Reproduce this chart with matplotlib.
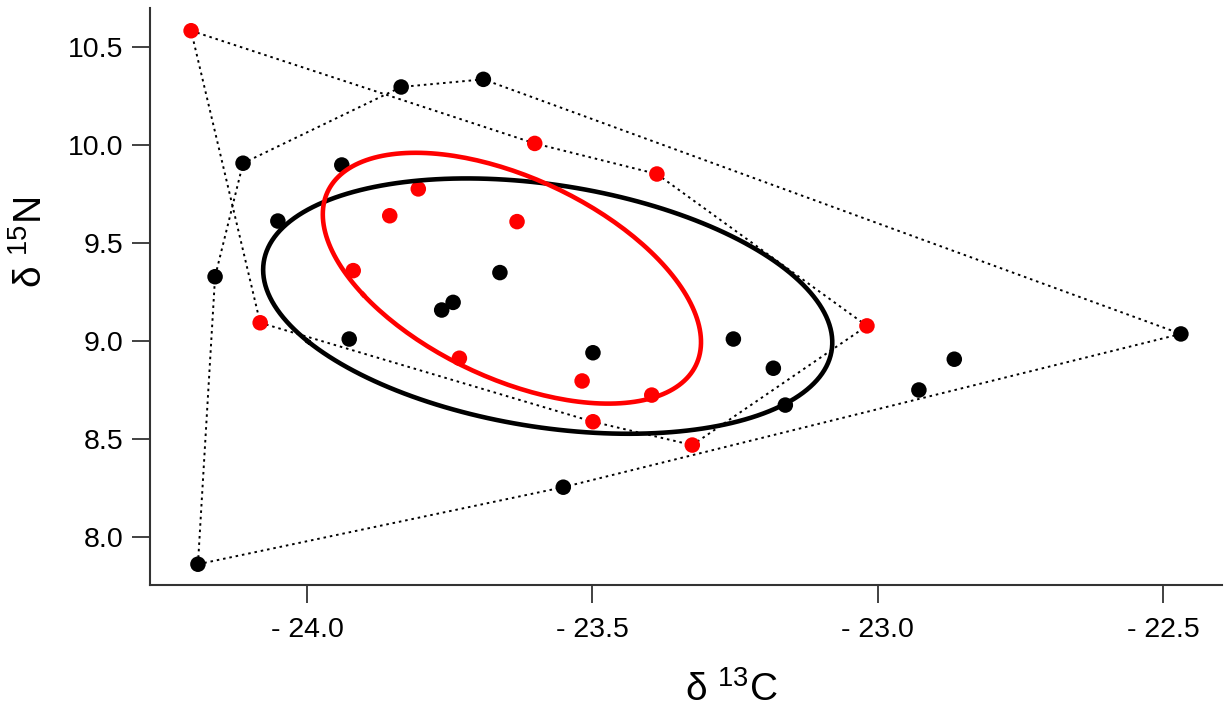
import numpy as np
import matplotlib
matplotlib.use("Agg")
import matplotlib.pyplot as plt
from matplotlib.ticker import FuncFormatter

# --------------------------------------------------
# data
# --------------------------------------------------
black_x = [-24.191, -23.551, -22.469, -23.691, -23.835, -24.112, -24.161,
           -24.051, -23.939, -23.926, -23.764, -23.744, -23.662, -23.499,
           -23.253, -23.183, -23.162, -22.928, -22.866]
black_y = [7.861, 8.254, 9.036, 10.335, 10.296, 9.907, 9.328,
           9.612, 9.898, 9.010, 9.158, 9.197, 9.349, 8.940,
           9.010, 8.861, 8.673, 8.750, 8.907]

red_x = [-24.203, -23.601, -23.387, -23.019, -23.325, -23.499, -24.082,
         -23.805, -23.855, -23.632, -23.919, -23.733, -23.518, -23.396]
red_y = [10.583, 10.008, 9.852, 9.077, 8.469, 8.588, 9.093,
         9.776, 9.639, 9.609, 9.359, 8.912, 8.796, 8.724]

# hull outline, as indices into the groups above
black_hull = [0, 1, 2, 3, 4, 5, 6, 0]
red_hull = [0, 1, 2, 3, 4, 5, 6, 0]

x_ticks = [-24.0, -23.5, -23.0, -22.5]
y_ticks = [8.0, 8.5, 9.0, 9.5, 10.0, 10.5]


def sea_c(x, y, n_pts=200):
    # small-sample corrected standard ellipse (SEAc)
    x = np.asarray(x)
    y = np.asarray(y)
    n = len(x)
    cov = np.cov(x, y) * (n - 1) / (n - 2)
    vals, vecs = np.linalg.eigh(cov)
    t = np.linspace(0, 2 * np.pi, n_pts)
    circ = np.vstack([np.cos(t), np.sin(t)])
    pts = vecs @ (np.sqrt(vals)[:, None] * circ)
    return pts[0] + x.mean(), pts[1] + y.mean()


plt.rcParams["font.family"] = ["Liberation Sans", "DejaVu Sans"]
plt.rcParams["mathtext.fontset"] = "custom"
plt.rcParams["mathtext.rm"] = "Liberation Sans"
plt.rcParams["mathtext.it"] = "Liberation Sans"

fig = plt.figure(figsize=(12.31, 7.12), dpi=100)
ax = fig.add_axes([150 / 1231, 1 - 585 / 712, 1072 / 1231, 577 / 712])

dot = (0, (1.3, 2.0))
bx, by = np.array(black_x), np.array(black_y)
rx, ry = np.array(red_x), np.array(red_y)
ax.plot(bx[black_hull], by[black_hull], color="black", lw=1.4, ls=dot, zorder=1)
ax.plot(rx[red_hull], ry[red_hull], color="black", lw=1.4, ls=dot, zorder=1)

ax.scatter(black_x, black_y, s=125, color="black", edgecolors="none", zorder=3)
ax.scatter(red_x, red_y, s=125, color="#ff0000", edgecolors="none", zorder=3)

ex, ey = sea_c(black_x, black_y)
ax.plot(ex, ey, color="black", lw=3.3, zorder=4)
ex, ey = sea_c(red_x, red_y)
ax.plot(ex, ey, color="#ff0000", lw=3.3, zorder=5)

ax.set_xlim(-24.275, -22.397)
ax.set_ylim(7.755, 10.699)
ax.set_xticks(x_ticks)
ax.set_yticks(y_ticks)
ax.xaxis.set_major_formatter(FuncFormatter(lambda v, p: f"- {abs(v):.1f}"))
ax.yaxis.set_major_formatter(FuncFormatter(lambda v, p: f"{v:.1f}"))

for s in ["top", "right"]:
    ax.spines[s].set_visible(False)
for s in ["left", "bottom"]:
    ax.spines[s].set_linewidth(1.5)
    ax.spines[s].set_color("#333333")
ax.tick_params(direction="out", length=13, width=1.3, color="#333333",
               labelsize=20.5, pad=6)
ax.tick_params(axis="x", pad=10)

ax.set_xlabel(r"δ $^{13}$C", fontsize=28)
ax.set_ylabel(r"δ $^{15}$N", fontsize=28)
ax.xaxis.label.set_va("center")
ax.yaxis.label.set_va("center")
ax.xaxis.set_label_coords(0.542, -0.182)
ax.yaxis.set_label_coords(-0.111, 0.594)

fig.savefig("out.png", dpi=100)
